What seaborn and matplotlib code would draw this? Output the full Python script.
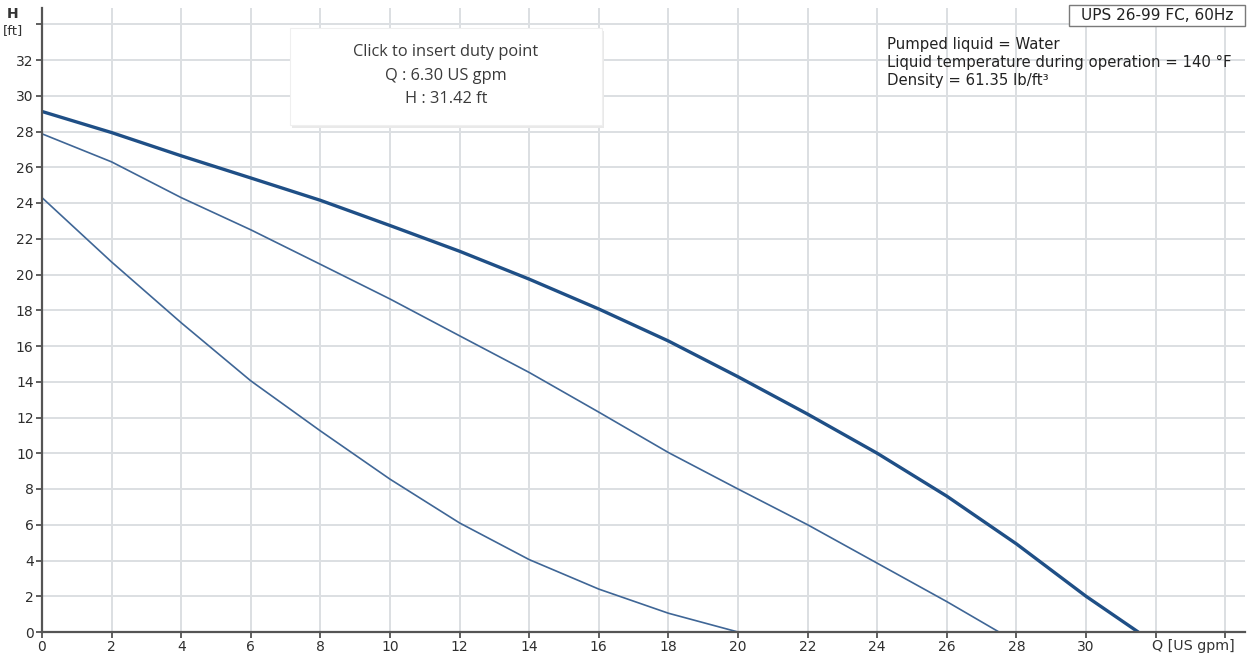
import numpy as np
import pandas as pd
import matplotlib
matplotlib.use("Agg")
import matplotlib.pyplot as plt
from matplotlib.patches import Rectangle
import seaborn as sns

# ---- data ----
q_max = [0, 2, 4, 6, 8, 10, 12, 14, 16, 18, 20, 22, 24, 26, 28, 30, 31.5]
h_max = [29.12, 27.94, 26.64, 25.4, 24.15, 22.74, 21.3, 19.74, 18.07, 16.28, 14.28, 12.19, 10.0, 7.6, 4.93, 2.0, 0.0]

q_mid = [0, 2, 4, 6, 8, 10, 12, 14, 16, 18, 20, 22, 24, 26, 27.5]
h_mid = [27.87, 26.3, 24.3, 22.5, 20.57, 18.63, 16.57, 14.52, 12.3, 10.04, 8.0, 6.0, 3.85, 1.7, 0.0]

q_min = [0, 2, 4, 6, 8, 10, 12, 14, 16, 18, 20]
h_min = [24.3, 20.7, 17.3, 14.05, 11.25, 8.55, 6.1, 4.05, 2.4, 1.05, 0.0]

x_ticks = list(range(0, 32, 2))
y_ticks = list(range(0, 34, 2))

duty_text = ["Click to insert duty point", "Q : 6.30 US gpm", "H : 31.42 ft"]
info_text = ["Pumped liquid = Water",
             "Liquid temperature during operation = 140 °F",
             "Density = 61.35 lb/ft³"]
title_text = "UPS 26-99 FC, 60Hz"

df = pd.concat([
    pd.DataFrame({"Q": q_max, "H": h_max, "curve": "max"}),
    pd.DataFrame({"Q": q_mid, "H": h_mid, "curve": "mid"}),
    pd.DataFrame({"Q": q_min, "H": h_min, "curve": "min"}),
])

sns.set_theme(style="white")
plt.rcParams["font.family"] = ["DejaVu Sans"]

W, H = 1247, 657
fig = plt.figure(figsize=(W / 100, H / 100), dpi=100)
ax_left, ax_right, ax_top, ax_bottom = 42, 1245, 8, 632
ax = fig.add_axes([ax_left / W, (H - ax_bottom) / H,
                   (ax_right - ax_left) / W, (ax_bottom - ax_top) / H])

palette = {"max": "#1f4f86", "mid": "#3f6696", "min": "#3f6696"}
sizes = {"max": 2.4, "mid": 1.2, "min": 1.2}
for name, sub in df.groupby("curve", sort=False):
    sns.lineplot(data=sub, x="Q", y="H", ax=ax, color=palette[name],
                 linewidth=sizes[name], sort=False, estimator=None, zorder=3)

ax.set_xlim(0, (ax_right - ax_left) / 34.8)
ax.set_ylim(0, (ax_bottom - ax_top) / 17.875)

ax.set_xticks(list(range(0, 36, 2)))
ax.set_xticklabels([str(t) if t in x_ticks else "" for t in range(0, 36, 2)])
ax.set_yticks(list(range(0, 36, 2)))
ax.set_yticklabels([str(t) if t in y_ticks else "" for t in range(0, 36, 2)])

ax.grid(True, color="#dcdfe2", linewidth=1.4, zorder=0)
ax.set_axisbelow(True)
for s in ["top", "right"]:
    ax.spines[s].set_visible(False)
for s in ["left", "bottom"]:
    ax.spines[s].set_color("#555555")
    ax.spines[s].set_linewidth(1.6)
    ax.spines[s].set_zorder(4)
ax.tick_params(axis="both", which="major", length=4, width=1.2, color="#444444",
               labelsize=10, labelcolor="#2e2e2e", pad=2, direction="out",
               bottom=True, left=True)
ax.set_xlabel("")
ax.set_ylabel("")

# axis unit labels
fig.text(13 / W, 1 - 14 / H, "H", ha="center", va="center", fontsize=10, color="#333333",
         fontweight="bold")
fig.text(13 / W, 1 - 31 / H, "[ft]", ha="center", va="center", fontsize=9.5, color="#333333")
fig.text(1193 / W, 1 - 646 / H, "Q [US gpm]", ha="center", va="center", fontsize=10.3, color="#333333")

# duty point box with soft shadow
bx0, by0, bx1, by1 = 290, 28, 602, 125
fig.add_artist(Rectangle(((bx0 + 2) / W, 1 - (by1 + 3) / H), (bx1 - bx0) / W, (by1 - by0) / H,
                         transform=fig.transFigure, facecolor="#e9e9e9", edgecolor="none", zorder=5))
fig.add_artist(Rectangle((bx0 / W, 1 - by1 / H), (bx1 - bx0) / W, (by1 - by0) / H,
                         transform=fig.transFigure, facecolor="white", edgecolor="#efefef",
                         linewidth=0.8, zorder=6))
for i, line in enumerate(duty_text):
    fig.text(446 / W, 1 - (52 + 23.5 * i) / H, line, ha="center", va="center",
             fontsize=11.8, color="#3a3a3a", family=["Open Sans", "DejaVu Sans"], zorder=7)

# info text
for i, line in enumerate(info_text):
    fig.text(887 / W, 1 - (45 + 17.5 * i) / H, line, ha="left", va="center",
             fontsize=10.7, color="#222222", zorder=7)

# title box
tx0, ty0, tx1, ty1 = 1069, 5, 1245, 26
fig.add_artist(Rectangle((tx0 / W, 1 - ty1 / H), (tx1 - tx0) / W, (ty1 - ty0) / H,
                         transform=fig.transFigure, facecolor="white", edgecolor="#7a7a7a",
                         linewidth=1.0, zorder=8))
fig.text((tx0 + tx1) / 2 / W, 1 - 15.5 / H, title_text, ha="center", va="center", fontsize=11,
         color="#222222", zorder=9)

fig.savefig("out.png", dpi=100)
